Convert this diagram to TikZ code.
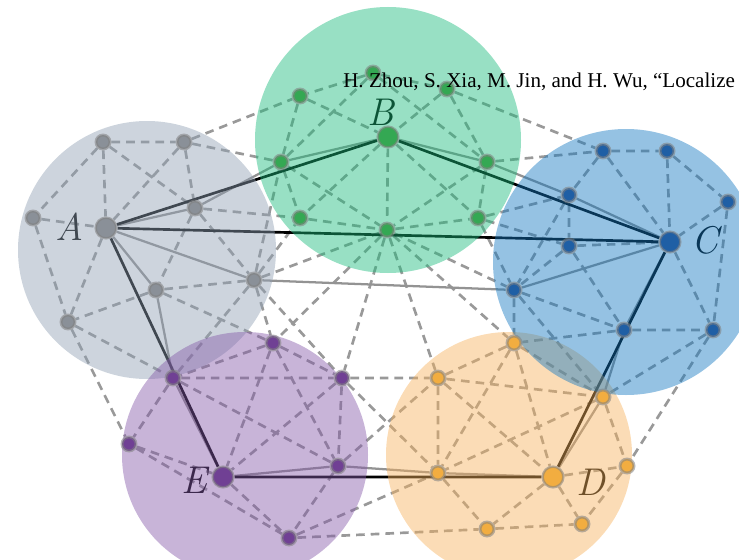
\documentclass[tikz,border=0pt]{standalone}
\usepackage{fontspec}
\newfontfamily\citefont{Liberation Serif}
\usepackage{xcolor}

\definecolor{grayC}{RGB}{144,160,180}
\definecolor{greenC}{RGB}{27,187,124}
\definecolor{blueC}{RGB}{20,120,193}
\definecolor{purpleC}{RGB}{133,89,169}
\definecolor{orangeC}{RGB}{247,178,93}
\definecolor{grayN}{RGB}{138,144,152}
\definecolor{greenN}{RGB}{52,168,83}
\definecolor{blueN}{RGB}{31,95,165}
\definecolor{purpleN}{RGB}{112,64,148}
\definecolor{orangeN}{RGB}{242,173,64}

\pgfdeclarelayer{edges}
\pgfdeclarelayer{discs}
\pgfsetlayers{edges,discs,main}

\begin{document}
\begin{tikzpicture}[x=0.75pt, y=-0.75pt,
  dot/.style={circle, inner sep=0pt, minimum size=10.5pt, line width=2.2pt,
    draw=gray, draw opacity=0.55, fill=#1},
  anchorpt/.style={circle, inner sep=0pt, minimum size=15.5pt, line width=1.8pt,
    draw=gray, draw opacity=0.55, fill=#1},
  hop/.style={gray!80, line width=2pt, dash pattern=on 6.5pt off 4.5pt},
  route/.style={gray!85, line width=1.7pt},
  direct/.style={black, line width=2pt},
  zone/.style={fill=#1, fill opacity=0.45},
  letter/.style={font=\fontsize{29}{30}\selectfont\itshape, inner sep=0pt}]

\useasboundingbox (0,0) rectangle (739,560);

% Cluster A
\node[dot=grayN] (a1) at (103,142) {};
\node[dot=grayN] (a2) at (184,142) {};
\node[dot=grayN] (a3) at (33,218) {};
\node[dot=grayN] (a4) at (195,208) {};
\node[dot=grayN] (a5) at (254,280) {};
\node[dot=grayN] (a6) at (156,290) {};
\node[dot=grayN] (a7) at (68,322) {};
\node[anchorpt=grayN] (A) at (106,228) {};

% Cluster B
\node[dot=greenN] (b1) at (373,73) {};
\node[dot=greenN] (b2) at (300,96) {};
\node[dot=greenN] (b3) at (447,89) {};
\node[dot=greenN] (b4) at (281,162) {};
\node[dot=greenN] (b5) at (487,162) {};
\node[dot=greenN] (b6) at (300,218) {};
\node[dot=greenN] (b7) at (387,230) {};
\node[dot=greenN] (b8) at (478,218) {};
\node[anchorpt=greenN] (B) at (388,137) {};

% Cluster C
\node[dot=blueN] (c1) at (603,151) {};
\node[dot=blueN] (c2) at (667,151) {};
\node[dot=blueN] (c3) at (728,202) {};
\node[dot=blueN] (c4) at (569,195) {};
\node[dot=blueN] (c5) at (569,246) {};
\node[dot=blueN] (c6) at (514,290) {};
\node[dot=blueN] (c7) at (624,330) {};
\node[dot=blueN] (c8) at (713,330) {};
\node[anchorpt=blueN] (C) at (670,242) {};

% Cluster E
\node[dot=purpleN] (e1) at (273,343) {};
\node[dot=purpleN] (e2) at (173,378) {};
\node[dot=purpleN] (e3) at (342,378) {};
\node[dot=purpleN] (e4) at (129,444) {};
\node[dot=purpleN] (e5) at (338,466) {};
\node[dot=purpleN] (e6) at (289,538) {};
\node[anchorpt=purpleN] (E) at (223,477) {};

% Cluster D
\node[dot=orangeN] (d1) at (514,343) {};
\node[dot=orangeN] (d2) at (438,378) {};
\node[dot=orangeN] (d3) at (603,397) {};
\node[dot=orangeN] (d4) at (627,466) {};
\node[dot=orangeN] (d5) at (438,473) {};
\node[dot=orangeN] (d6) at (487,529) {};
\node[dot=orangeN] (d7) at (582,524) {};
\node[anchorpt=orangeN] (D) at (553,477) {};

\begin{pgfonlayer}{edges}
% Neighbour links
\draw[hop]
  (a1) -- (a2)  (a1) -- (a3)  (a1) -- (A)  (a1) -- (a4)
  (a2) -- (A)  (a2) -- (a4)  (a2) -- (b2)  (a2) -- (b4)
  (a3) -- (A)  (a3) -- (a7)  (A) -- (a7)
  (a4) -- (b6)  (a4) -- (a5)  (a4) -- (a6)
  (a6) -- (a5)  (a6) -- (a7)  (a6) -- (e1)
  (a7) -- (e2)  (a7) -- (e4)
  (a5) -- (b4)  (a5) -- (b6)  (a5) -- (b7)
  (a5) -- (e1)  (a5) -- (e2)  (a5) -- (e3);
\draw[hop]
  (b1) -- (b2)  (b1) -- (b3)  (b1) -- (b4)  (b1) -- (b5)
  (b2) -- (b4)  (b2) -- (B)  (b3) -- (B)  (b3) -- (b5)  (b3) -- (c1)
  (B) -- (b6)  (B) -- (b7)  (B) -- (b8)
  (b4) -- (b6)  (b4) -- (b7)  (b5) -- (b7)  (b5) -- (b8)  (b5) -- (c1)
  (b6) -- (b7)  (b7) -- (b8)
  (b7) -- (e1)  (b7) -- (e3)  (b7) -- (d2)  (b7) -- (d1)  (b7) -- (c6)
  (b8) -- (c4)  (b8) -- (c5)  (b8) -- (c6);
\draw[hop]
  (c1) -- (c2)  (c1) -- (c4)  (c1) -- (C)  (c2) -- (C)  (c2) -- (c3)
  (c3) -- (C)  (c3) -- (c8)  (c4) -- (c5)  (c4) -- (c6)
  (c5) -- (C)  (c5) -- (c6)  (c5) -- (c7)  (C) -- (c8)
  (c6) -- (c7)  (c6) -- (d1)  (c6) -- (d3)
  (c7) -- (c8)  (c7) -- (d1)  (c8) -- (d3)  (c8) -- (d4);
\draw[hop]
  (e1) -- (e2)  (e1) -- (e3)  (e1) -- (E)  (e1) -- (e5)
  (e2) -- (e3)  (e2) -- (e4)  (e2) -- (e5)
  (e3) -- (e5)  (e3) -- (E)  (e3) -- (d2)  (e3) -- (d5)
  (e4) -- (E)  (e4) -- (e6)  (E) -- (e6)
  (e5) -- (e6)  (e5) -- (d2)  (e6) -- (d5)  (e6) -- (d6);
\draw[hop]
  (d1) -- (d2)  (d1) -- (d3)  (d1) -- (d5)  (d1) -- (D)
  (d2) -- (d3)  (d2) -- (d5)  (d2) -- (D)
  (d3) -- (d5)  (d3) -- (d4)
  (d5) -- (d6)  (D) -- (d6)  (D) -- (d7)  (D) -- (d4)
  (d6) -- (d7)  (d4) -- (d7);

% Multi-hop routes
\draw[route] (A) -- (a4) -- (b4) -- (B) -- (b5) -- (c4) -- (C) -- (c7)
  -- (d3) -- (D) -- (d5) -- (e5) -- (E) -- (e2) -- (a6) -- (A);
\draw[route] (A) -- (a5) -- (c6) -- (C);

% Direct distances
\draw[direct] (A) -- (B) -- (C) -- (D) -- (E) -- (A) (A) -- (C);

% Anchor names
\node[letter] (lA) at (70,227) {A};
\node[letter] (lB) at (381,112) {B};
\node[letter] (lC) at (705,240) {C};
\node[letter] (lD) at (591,482) {D};
\node[letter] (lE) at (194,480) {E};
\end{pgfonlayer}

\begin{pgfonlayer}{discs}
% Cluster discs
\fill[zone=grayC] (147,250) circle[radius=129];
\fill[zone=purpleC] (245,455) circle[radius=123];
\fill[zone=orangeC] (509,455) circle[radius=123];
\fill[zone=blueC] (626,262) circle[radius=133];
\fill[zone=greenC] (388,140) circle[radius=133];
\end{pgfonlayer}

% Reference
\node[anchor=base west, inner sep=0pt, font=\citefont\fontsize{15.8}{17}\selectfont]
  (cite) at (343,88) {H. Zhou, S. Xia, M. Jin, and H. Wu, “Localize};

\end{tikzpicture}
\end{document}
